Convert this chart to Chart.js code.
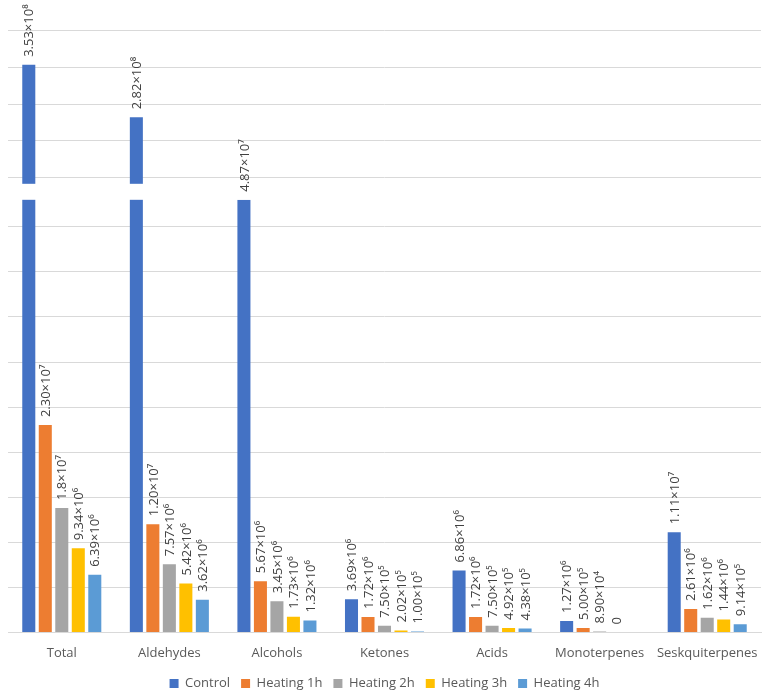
<!DOCTYPE html>
<html>
<head>
<meta charset="utf-8">
<script src="https://cdn.jsdelivr.net/npm/chart.js@4/dist/chart.umd.min.js"></script>
<style>
  html, body { margin: 0; padding: 0; background: #fff; }
  #wrap { width: 771px; height: 696px; position: relative; }
</style>
</head>
<body>
<div id="wrap"><canvas id="myChart"></canvas></div>
<script>
const categories = ['Total', 'Aldehydes', 'Alcohols', 'Ketones', 'Acids', 'Monoterpenes', 'Seskquiterpenes']
const seriesNames = ['Control', 'Heating 1h', 'Heating 2h', 'Heating 3h', 'Heating 4h']

// values
const control   = [3.53e8, 2.82e8, 4.87e7, 3.69e6, 6.86e6, 1.27e6, 1.11e7]
const heating1h = [2.30e7, 1.20e7, 5.67e6, 1.72e6, 1.72e6, 5.00e5, 2.61e6]
const heating2h = [1.38e7, 7.57e6, 3.45e6, 7.50e5, 7.50e5, 8.90e4, 1.62e6]
const heating3h = [9.34e6, 5.42e6, 1.73e6, 2.02e5, 4.92e5, 0, 1.44e6]
const heating4h = [6.39e6, 3.62e6, 1.32e6, 1.00e5, 4.38e5, 0, 9.14e5]

// data label text as printed on the chart
const controlText   = ['3.53×10⁸', '2.82×10⁸', '4.87×10⁷', '3.69×10⁶', '6.86×10⁶', '1.27×10⁶', '1.11×10⁷']
const heating1hText = ['2.30×10⁷', '1.20×10⁷', '5.67×10⁶', '1.72×10⁶', '1.72×10⁶', '5.00×10⁵', '2.61×10⁶']
const heating2hText = ['1.8×10⁷', '7.57×10⁶', '3.45×10⁶', '7.50×10⁵', '7.50×10⁵', '8.90×10⁴', '1.62×10⁶']
const heating3hText = ['9.34×10⁶', '5.42×10⁶', '1.73×10⁶', '2.02×10⁵', '4.92×10⁵', '0', '1.44×10⁶']
const heating4hText = ['6.39×10⁶', '3.62×10⁶', '1.32×10⁶', '1.00×10⁵', '4.38×10⁵', '', '9.14×10⁵']

// gridline values: lower part and upper part of the broken axis
const lowerTicks = [0, 5e6, 1e7, 1.5e7, 2e7, 2.5e7, 3e7, 3.5e7, 4e7, 4.5e7]
const upperTicks = [2e8, 2.5e8, 3e8, 3.5e8, 4e8]

// axis break
const BREAK_LOW = 4.8e7
const BREAK_HIGH = 1.92e8
const AXIS_MAX = 4.34e8
const LOWER_FRAC = 0.6895
const GAP_FRAC = 0.0255

const colors = ['#4472C4', '#ED7D31', '#A5A5A5', '#FFC000', '#5B9BD5']
const font = '"Open Sans", "Noto Sans", sans-serif'

// linear scale with a break in it
class BrokenScale extends Chart.LinearScale {
    buildTicks() {
        return lowerTicks.concat(upperTicks).map(v => ({ value: v }))
    }
    bands() {
        const h = this.bottom - this.top
        const lowTop = this.bottom - h * LOWER_FRAC
        const upBottom = lowTop - h * GAP_FRAC
        return { lowTop, upBottom }
    }
    getPixelForValue(value) {
        const { lowTop, upBottom } = this.bands()
        if (value <= BREAK_LOW) return this.bottom - (value / BREAK_LOW) * (this.bottom - lowTop)
        if (value >= BREAK_HIGH) return upBottom - (value - BREAK_HIGH) / (AXIS_MAX - BREAK_HIGH) * (upBottom - this.top)
        return lowTop - (value - BREAK_LOW) / (BREAK_HIGH - BREAK_LOW) * (lowTop - upBottom)
    }
    getValueForPixel(pixel) {
        const { lowTop, upBottom } = this.bands()
        if (pixel >= lowTop) return (this.bottom - pixel) / (this.bottom - lowTop) * BREAK_LOW
        if (pixel <= upBottom) return BREAK_HIGH + (upBottom - pixel) / (upBottom - this.top) * (AXIS_MAX - BREAK_HIGH)
        return BREAK_LOW + (lowTop - pixel) / (lowTop - upBottom) * (BREAK_HIGH - BREAK_LOW)
    }
}
BrokenScale.id = 'broken'
BrokenScale.defaults = Chart.LinearScale.defaults
Chart.register(BrokenScale)

const values = [control, heating1h, heating2h, heating3h, heating4h]
const texts = [controlText, heating1hText, heating2hText, heating3hText, heating4hText]

// white gap for the break, then the rotated value labels
const breakAndLabels = {
    id: 'breakAndLabels',
    afterDatasetsDraw(chart) {
        const { ctx, chartArea } = chart
        const y = chart.scales.y
        const { lowTop, upBottom } = y.bands()
        ctx.save()
        ctx.fillStyle = '#fff'
        ctx.fillRect(chartArea.left - 2, upBottom, chartArea.right - chartArea.left + 4, lowTop - upBottom)

        ctx.fillStyle = '#404040'
        ctx.font = '13px ' + font
        ctx.textAlign = 'left'
        ctx.textBaseline = 'middle'
        chart.data.datasets.forEach((ds, i) => {
            const meta = chart.getDatasetMeta(i)
            meta.data.forEach((bar, j) => {
                const t = texts[i][j]
                if (!t) return
                ctx.save()
                ctx.translate(bar.x + 1, bar.y - 8)
                ctx.rotate(-Math.PI / 2)
                ctx.fillText(t, 0, 0)
                ctx.restore()
            })
        })
        ctx.restore()
    }
}

const data = {
    labels: categories,
    datasets: seriesNames.map((name, i) => ({
        label: name,
        data: values[i],
        backgroundColor: colors[i],
        borderWidth: 0,
        categoryPercentage: 0.767,
        barPercentage: 0.79
    }))
}

const config = {
    type: 'bar',
    data,
    options: {
        responsive: true,
        maintainAspectRatio: false,
        animation: false,
        layout: {
            padding: { top: 5, left: 8, right: 10, bottom: -4 }
        },
        scales: {
            x: {
                grid: { display: false },
                border: { display: true, color: '#d9d9d9' },
                ticks: {
                    color: '#595959',
                    font: { family: font, size: 13 },
                    padding: 5,
                    maxRotation: 0
                }
            },
            y: {
                type: 'broken',
                min: 0,
                max: AXIS_MAX,
                ticks: { display: false },
                grid: { color: '#d9d9d9', drawTicks: false },
                border: { display: false }
            }
        },
        plugins: {
            legend: {
                position: 'bottom',
                labels: {
                    boxWidth: 9,
                    boxHeight: 9,
                    padding: 11,
                    color: '#595959',
                    font: { family: font, size: 13 }
                }
            },
            tooltip: { enabled: false }
        }
    },
    plugins: [breakAndLabels]
}

const myChart = new Chart(document.getElementById('myChart'), config)
</script>
</body>
</html>
